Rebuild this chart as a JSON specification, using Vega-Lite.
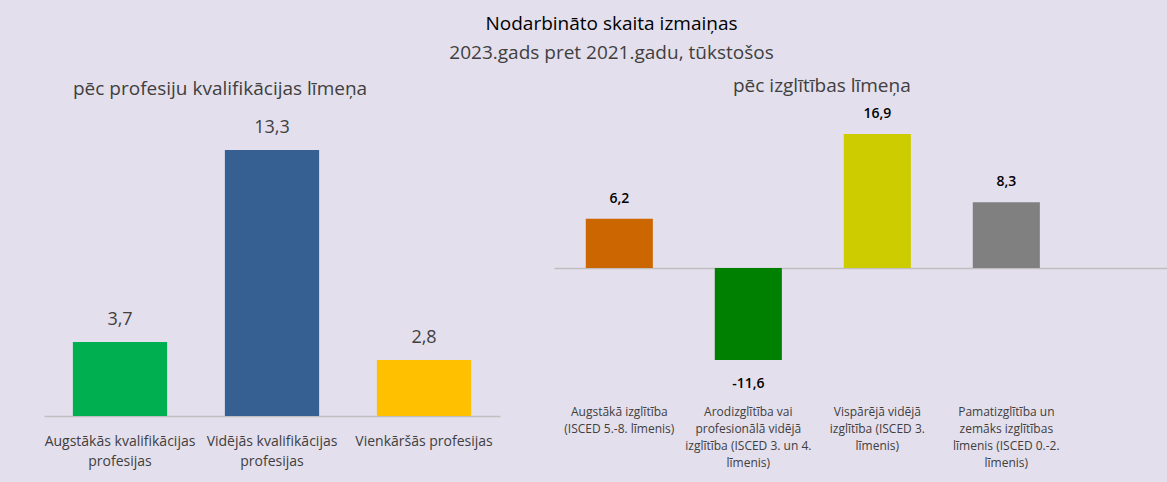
{
  "$schema": "https://vega.github.io/schema/vega-lite/v6.json",
  "background": "#E4DFEC",
  "padding": {"left": 44, "top": 14, "right": 0, "bottom": 15},
  "autosize": {"type": "pad"},
  "config": {
    "locale": {"number": {"decimal": ",", "thousands": " ", "grouping": [3], "currency": ["", " €"], "minus": "-"}},
    "view": {"stroke": null},
    "font": "Open Sans"
  },
  "title": {
    "text": "Nodarbināto skaita izmaiņas",
    "subtitle": "2023.gads pret 2021.gadu, tūkstošos",
    "fontSize": 19,
    "fontWeight": "normal",
    "color": "#000000",
    "subtitleFontSize": 19,
    "subtitleColor": "#404040",
    "subtitlePadding": 10,
    "anchor": "middle",
    "dx": 6,
    "offset": 14
  },
  "bounds": "flush",
  "spacing": 54,
  "resolve": {"scale": {"color": "independent"}},
  "hconcat": [
    {
      "width": 456,
      "height": 306,
      "title": {"text": "pēc profesiju kvalifikācijas līmeņa", "anchor": "start", "dx": 29, "dy": 3, "fontSize": 19, "fontWeight": "normal", "color": "#404040", "offset": 14},
      "data": {"values": [
        {"kategorija": "Augstākās kvalifikācijas profesijas", "izmaina": 3.7},
        {"kategorija": "Vidējās kvalifikācijas profesijas", "izmaina": 13.3},
        {"kategorija": "Vienkāršās profesijas", "izmaina": 2.8}
      ]},
      "layer": [
        {
          "mark": {"type": "bar"},
          "encoding": {
            "x": {"field": "kategorija", "type": "nominal", "sort": null,
              "scale": {"paddingInner": 0.38, "paddingOuter": 0.19},
              "axis": {"title": null, "labelAngle": 0, "domainColor": "#BFBFBF", "domainWidth": 1.5, "ticks": false,
                "labelFontSize": 14, "labelColor": "#404040", "labelPadding": 18, "labelLineHeight": 20, "labelLimit": 300,
                "labelExpr": "{'Augstākās kvalifikācijas profesijas': ['Augstākās kvalifikācijas', 'profesijas'], 'Vidējās kvalifikācijas profesijas': ['Vidējās kvalifikācijas', 'profesijas'], 'Vienkāršās profesijas': ['Vienkāršās profesijas']}[datum.label]"}},
            "y": {"field": "izmaina", "type": "quantitative", "scale": {"domain": [0, 15.3], "nice": false}, "axis": null},
            "color": {"field": "kategorija", "type": "nominal",
              "scale": {"domain": ["Augstākās kvalifikācijas profesijas", "Vidējās kvalifikācijas profesijas", "Vienkāršās profesijas"], "range": ["#00B050", "#366092", "#FFC000"]},
              "legend": null}
          }
        },
        {
          "mark": {"type": "text", "dy": -22, "fontSize": 18, "color": "#404040"},
          "encoding": {
            "x": {"field": "kategorija", "type": "nominal", "sort": null},
            "y": {"field": "izmaina", "type": "quantitative"},
            "text": {"field": "izmaina", "type": "quantitative", "format": ".1f"}
          }
        }
      ]
    },
    {
      "width": 613,
      "height": 290,
      "title": {"text": "pēc izglītības līmeņa", "anchor": "start", "dx": 179, "dy": 3, "fontSize": 19, "fontWeight": "normal", "color": "#404040", "offset": 14},
      "data": {"values": [
        {"kategorija": "Augstākā izglītība (ISCED 5.-8. līmenis)", "izmaina": 6.2},
        {"kategorija": "Arodizglītība vai profesionālā vidējā izglītība (ISCED 3. un 4. līmenis)", "izmaina": -11.6},
        {"kategorija": "Vispārējā vidējā izglītība (ISCED 3. līmenis)", "izmaina": 16.9},
        {"kategorija": "Pamatizglītība un zemāks izglītības līmenis (ISCED 0.-2. līmenis)", "izmaina": 8.3}
      ]},
      "layer": [
        {
          "mark": {"type": "bar"},
          "encoding": {
            "x": {"field": "kategorija", "type": "nominal", "sort": null,
              "scale": {"paddingInner": 0.48, "paddingOuter": 0.616, "align": 0.2},
              "axis": {"title": null, "labelAngle": 0, "domain": false, "ticks": false,
                "labelFontSize": 12, "labelColor": "#404040", "labelPadding": 6, "labelLineHeight": 17, "labelLimit": 300,
                "labelExpr": "{'Augstākā izglītība (ISCED 5.-8. līmenis)': ['Augstākā izglītība', '(ISCED 5.-8. līmenis)'], 'Arodizglītība vai profesionālā vidējā izglītība (ISCED 3. un 4. līmenis)': ['Arodizglītība vai', 'profesionālā vidējā', 'izglītība (ISCED 3. un 4.', 'līmenis)'], 'Vispārējā vidējā izglītība (ISCED 3. līmenis)': ['Vispārējā vidējā', 'izglītība (ISCED 3.', 'līmenis)'], 'Pamatizglītība un zemāks izglītības līmenis (ISCED 0.-2. līmenis)': ['Pamatizglītība un', 'zemāks izglītības', 'līmenis (ISCED 0.-2.', 'līmenis)']}[datum.label]"}},
            "y": {"field": "izmaina", "type": "quantitative", "scale": {"domain": [-16.65, 19.92], "nice": false},
              "axis": {"title": null, "values": [0], "grid": true, "gridColor": "#BFBFBF", "gridWidth": 1.5, "labels": false, "ticks": false, "domain": false}},
            "color": {"field": "kategorija", "type": "nominal",
              "scale": {"domain": ["Augstākā izglītība (ISCED 5.-8. līmenis)", "Arodizglītība vai profesionālā vidējā izglītība (ISCED 3. un 4. līmenis)", "Vispārējā vidējā izglītība (ISCED 3. līmenis)", "Pamatizglītība un zemāks izglītības līmenis (ISCED 0.-2. līmenis)"], "range": ["#CC6600", "#008000", "#CCCC00", "#808080"]},
              "legend": null}
          }
        },
        {
          "transform": [{"filter": "datum.izmaina >= 0"}],
          "mark": {"type": "text", "dy": -20, "fontSize": 14, "fontWeight": 600, "color": "#000000"},
          "encoding": {
            "x": {"field": "kategorija", "type": "nominal", "sort": null},
            "y": {"field": "izmaina", "type": "quantitative"},
            "text": {"field": "izmaina", "type": "quantitative", "format": ".1f"}
          }
        },
        {
          "transform": [{"filter": "datum.izmaina < 0"}],
          "mark": {"type": "text", "dy": 24, "fontSize": 14, "fontWeight": 600, "color": "#000000"},
          "encoding": {
            "x": {"field": "kategorija", "type": "nominal", "sort": null},
            "y": {"field": "izmaina", "type": "quantitative"},
            "text": {"field": "izmaina", "type": "quantitative", "format": ".1f"}
          }
        }
      ]
    }
  ]
}
